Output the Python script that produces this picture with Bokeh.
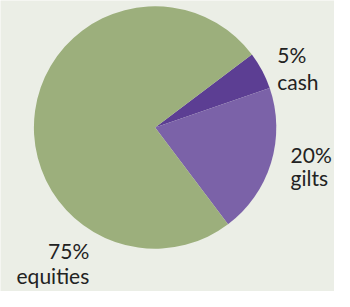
import math
from bokeh.plotting import figure
from bokeh.models import Range1d, ColumnDataSource
from bokeh.core.properties import value
from bokeh.embed import file_html
from bokeh.resources import INLINE

categories = ["cash", "gilts", "equities"]
shares = [5, 20, 75]
pct_labels = ["5%", "20%", "75%"]
colors = ["#5c3e93", "#7b62a8", "#9caf7c"]
BG = "#ebeee6"

W, H = 350, 307  # reference pixel size; data y = H - pixel y
cx, cy, r = 162, H - 134, 127
start_deg = 37.0

total = sum(shares)
starts, ends = [], []
a = start_deg
for s in shares:
    starts.append(math.radians(a))
    a -= 360.0 * s / total
    ends.append(math.radians(a))

src = ColumnDataSource(dict(start=starts, end=ends, color=colors, cat=categories))

p = figure(width=334, height=291, x_range=Range1d(0, W), y_range=Range1d(0, H),
           output_backend="svg", toolbar_location=None, min_border=0)
p.axis.visible = False
p.grid.visible = False
p.outline_line_color = None
p.background_fill_color = BG
p.border_fill_color = BG

p.wedge(x=cx, y=cy, radius=r, start_angle="start", end_angle="end", direction="clock",
        fill_color="color", line_color=None, source=src)

# label layout (pixel coords in reference)
lab_x = [290, 304, 93]
lab_pct_base = [57, 162, 264]
lab_cat_base = [85, 187, 290]
lab_align = ["left", "left", "right"]

for i in range(3):
    for txt, base in ((pct_labels[i], lab_pct_base[i]), (categories[i], lab_cat_base[i])):
        p.text(x=[lab_x[i]], y=[H - base], text=[txt], text_align=lab_align[i],
               text_baseline="alphabetic", text_font=value("Lato"),
               text_font_size="21px", text_color="#222222")

open("out.html", "w").write(file_html(p, INLINE))
